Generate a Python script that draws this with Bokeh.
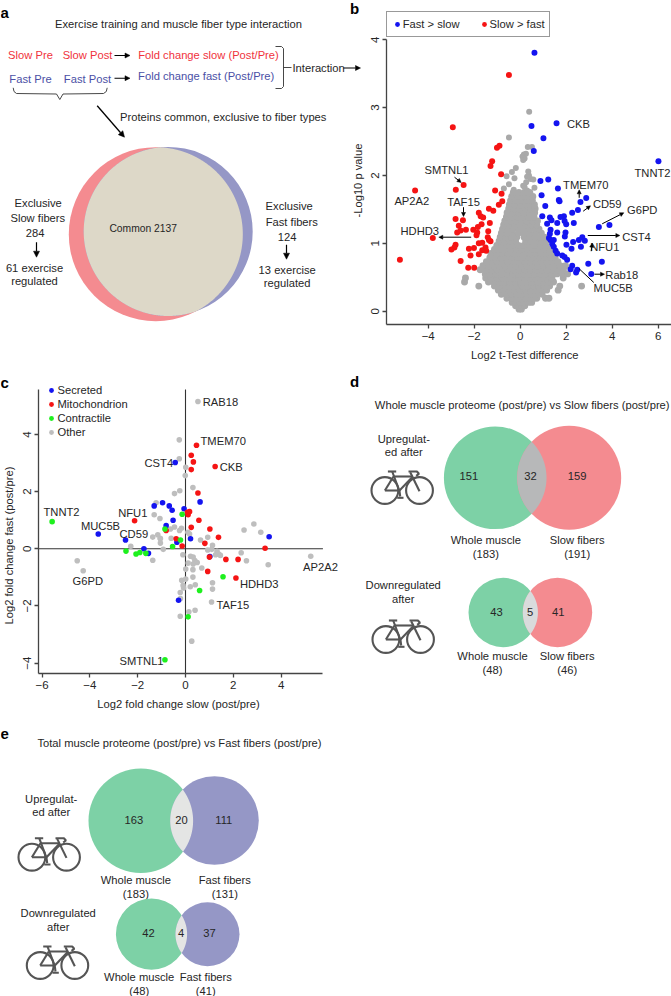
import numpy as np
from bokeh.plotting import figure
from bokeh.models import Range1d, LinearAxis, FixedTicker, Arrow, NormalHead, Legend, LegendItem
from bokeh.core.properties import value
from bokeh.embed import file_html
from bokeh.resources import INLINE

# ---------- panel b : volcano ----------
b_blue_x = [.62,1.58,.49,1.01,.59,6.01,.88,1.22,1.64,.93,1.68,1.71,2.87,2.62,1.09,2.51,2.26,.96,1.9,1.75,1.29,1.36,1.17,1.61,1.93,2.0,2.33,3.88,3.42,1.32,1.61,1.97,1.29,1.94,2.7,2.55,2.81,1.25,1.32,1.46,2.3,2.01,1.39,1.46,2.64,2.23,1.54,1.61,1.83,1.93,2.04,2.96,3.55,2.26,2.19,2.48,2.43,3.09]
b_blue_y = [3.81,2.77,2.73,2.55,2.36,2.21,1.92,1.94,1.81,1.71,1.64,1.62,1.67,1.61,1.55,1.49,1.45,1.40,1.4,1.39,1.38,1.34,1.29,1.30,1.33,1.28,1.30,1.27,1.24,1.20,1.16,1.16,1.14,1.10,1.09,1.05,1.04,1.08,1.05,1.05,1.02,.98,.99,.95,.95,.92,.89,.85,.82,.80,.76,.70,.73,.67,.62,.61,.57,.55]
b_red_x = [-.49,-2.93,-.9,-1.01,-1.22,-1.29,-.83,-2.46,-2.8,-4.57,-1.09,-.81,-.78,-.93,-1.36,-1.17,-1.8,-1.72,-1.61,-2.81,-2.49,-1.32,-2.67,-1.68,-1.84,-2.36,-2.59,-2.74,-2.04,-1.87,-1.9,-1.39,-1.41,-1.36,-1.29,-3.8,-1.8,-1.65,-2.81,-2.86,-2.99,-2.23,-2.01,-1.51,-1.65,-1.48,-1.8,-2.16,-5.23,-2.59,-2.26,-2.0]
b_red_y = [3.48,2.71,2.44,2.41,2.21,2.14,2.02,1.86,1.79,1.78,1.78,1.73,1.62,1.57,1.51,1.48,1.45,1.40,1.38,1.36,1.34,1.30,1.26,1.28,1.24,1.20,1.19,1.16,1.20,1.16,1.12,1.18,1.09,1.05,1.03,1.08,1.0,1.01,.98,.94,.91,.92,.93,.94,.90,.89,.84,.82,.76,.74,.64,.64]
b_other_levels = [.03,.08,.13,.19,.25,.31,.37,.43,.49,.55,.61,.67,.73,.79,.85,.91,.97,1.03,1.09,1.15,1.21,1.27,1.33,1.39,1.45,1.51,1.57,1.63,1.69,1.75]
b_other_rows = [
 [-.05,.05],
 [-.2,-.07,.07,.2],
 [-.35,-.18,0,.18,.35,.5],
 [-.58,-.38,-.18,.02,.22,.42,.6,.72,1.1,1.25],
 [-.82,-.6,-.38,-.16,.06,.28,.5,.72,.95],
 [-.95,-.72,-.48,-.24,0,.24,.48,.72,.95,1.15,1.65],
 [-1.8,-1.12,-.88,-.64,-.4,-.16,.08,.32,.56,.8,1.04,1.28,1.72,2.67],
 [-2.42,-1.38,-1.16,-.92,-.68,-.44,-.2,.04,.28,.52,.76,1.0,1.24,1.45],
 [-2.38,-1.5,-1.26,-1.02,-.78,-.54,-.3,-.06,.18,.42,.66,.9,1.14,1.38,1.87],
 [-1.52,-1.28,-1.04,-.8,-.56,-.32,-.08,.16,.4,.64,.88,1.12,1.36,1.6,1.83,2.06],
 [-1.74,-1.48,-1.24,-1.0,-.76,-.52,-.28,-.04,.2,.44,.68,.92,1.16,1.4,1.64,1.88],
 [-1.62,-1.38,-1.14,-.9,-.66,-.42,-.18,.06,.3,.54,.78,1.02,1.26,1.5,1.74,1.97],
 [-1.47,-1.24,-1.0,-.76,-.52,-.28,-.04,.2,.44,.68,.92,1.16,1.4,1.64],
 [-1.32,-1.08,-.84,-.6,-.36,-.12,.12,.36,.6,.84,1.08,1.32,1.52],
 [-1.27,-1.02,-.78,-.54,-.3,-.06,.18,.42,.66,.9,1.14,1.37],
 [-1.12,-.88,-.64,-.4,-.16,.08,.32,.56,.8,1.04,1.27],
 [-1.02,-.8,-.56,-.32,-.08,.16,.4,.64,.88,1.11],
 [-.92,-.68,-.44,-.2,.24,.48,.72,.96,1.12],
 [-.87,-.63,-.38,-.15,.17,.42,.66,.9,1.05],
 [-.82,-.58,-.33,-.08,.17,.42,.67,.92],
 [-.77,-.53,-.3,-.06,.18,.42,.66,.82],
 [-.72,-.48,-.24,0,.24,.48,.72],
 [-.67,-.43,-.18,.06,.3,.54,.75],
 [-.6,-.36,-.12,.12,.36,.6],
 [-.57,-.33,-.08,.16,.4,.63],
 [-.5,-.26,-.02,.22,.46,.65],
 [-.47,-.23,.02,.26,.5,.62],
 [-.42,-.18,.06,.3,.53],
 [-.37,-.12,.12,.37,.55],
 [-.3,-.06,.18,.42],
]
b_top_x = [.39,-.49,.33,.51,.16,.25,.1,.19,.13,-.19,-.36,.35,.38,-.59,.3,.45,.57,-.25,-.49,.26,.13,.19,-.71,-.28,.62,.3]
b_top_y = [2.94,2.56,2.42,2.42,2.31,2.32,2.28,2.25,2.23,2.11,2.05,2.06,2.0,1.99,1.98,1.95,1.94,1.96,1.87,1.9,1.85,1.83,1.81,1.79,1.82,1.78]

# ---------- panel c : fold change ----------
c_sec_x = [-1.31,-.96,-.68,-.56,-.06,.61,-.52,-.81,-.43,-3.65,-2.51,.21,3.5,-.36,-1.74,-1.55,1.02,-.29]
c_sec_y = [1.50,1.61,1.50,1.35,1.40,1.64,1.0,.81,3.02,.52,.31,.35,.42,.23,0,-.16,-.27,-1.8]
c_mito_x = [.46,.24,.33,.24,1.24,.52,.17,.08,.11,.56,-2.13,.24,1.02,1.38,-.81,-.39,.81,-.14,3.33,1.0,1.69,2.2,.93,2.11]
c_mito_y = [3.62,3.27,3.04,2.77,2.88,1.95,1.30,1.28,1.19,1.0,.98,.75,.69,.40,.64,.35,.19,.10,.02,-.29,-.37,-.37,-.79,-1.02]
c_con_x = [-5.58,-.14,-.86,-.21,-.54,-2.49,-2.07,-1.91,-1.66,1.57,.59,.11,-.86]
c_con_y = [.95,1.21,.69,.31,.08,-.08,-.18,-.13,-.16,-.98,-1.46,-2.38,-3.88]
c_oth_x = [.52,-.26,-.26,.01,-.01,.31,-.24,-.46,-1.23,-1.31,-1.07,-.46,-.63,-.25,-.17,.1,.17,-1.16,-1.37,-1.06,-.6,.93,.63,2.45,2.86,3.15,-4.53,-4.28,5.24,-2.29,-.93,-1.37,-1.05,-1.05,1.13,.93,1.1,1.32,1.39,1.26,1.46,2.33,2.55,3.46,-.11,.21,.32,.39,.49,.32,.11,.68,.01,.31,.31,.01,-.16,-.1,-.08,.2,.41,1.13,1.13,-.22,-.21,1.09,.4,.14,-.22,.26]
c_oth_y = [5.15,3.81,3.15,2.85,2.56,2.14,2.03,1.93,1.61,1.19,1.06,.76,.69,.64,.72,.58,.52,.49,.41,.37,.37,.40,.31,.66,.87,.58,-.42,-.77,-.26,.09,-.02,-.40,.35,.2,.12,-.04,-.02,-.09,-.18,-.21,-.23,-.14,-.42,-.56,-.21,-.26,-.29,-.41,-.48,-.53,-.5,-.67,-.71,-.73,-.99,-1.06,-1.1,-1.28,-1.37,-1.33,-1.26,-1.19,-1.41,-1.53,-1.74,-1.86,-2.15,-2.2,-2.36,-3.23]
b_ticks_x = [-4,-2,0,2,4,6]
b_ticks_y = [0,1,2,3,4]
c_ticks_x = [-6,-4,-2,0,2,4]
c_ticks_y = [-4,-2,0,2,4]

RED, BLUE, GRN = "#F48B90", "#9597C6", "#7DD1A6"
INK = "#262626"
FONT = "Liberation Sans"
W, H = 671, 996

p = figure(width=W, height=H, x_range=Range1d(0, W), y_range=Range1d(H, 0),
           x_axis_type=None, y_axis_type=None, toolbar_location=None, output_backend="svg",
           min_border=0, outline_line_color=None, background_fill_color="white", border_fill_color="white")
p.grid.visible = False

def xr(x0, u): return Range1d((0-x0)/u, (W-x0)/u)
def yr(y0, u): return Range1d((y0-H)/u, (y0-0)/u)
p.extra_x_ranges = {"bx": xr(519.7, 23.0), "cx": xr(185.0, 23.9)}
p.extra_y_ranges = {"by": yr(310.7, 67.85), "cy": yr(548.3, 28.59)}

def T(s, x, y, size=11.2, color=INK, align="center", style="normal", angle=0):
    p.text([x], [y], text=[s], text_font=value(FONT), text_font_size=f"{size}px", text_color=color,
           text_align=align, text_baseline="middle", text_font_style=style, angle=angle)

def AR(x0, y0, x1, y1, size=5, lw=1.1):
    p.add_layout(Arrow(end=NormalHead(size=size, fill_color="black", line_color="black", line_width=.5),
                       x_start=x0, y_start=y0, x_end=x1, y_end=y1, line_color="black", line_width=lw))

def lens(c1, r1, c2, r2):
    t = np.linspace(0, 2*np.pi, 1440)
    a = np.c_[c1[0]+r1*np.cos(t), c1[1]+r1*np.sin(t)]
    b = np.c_[c2[0]+r2*np.cos(t), c2[1]+r2*np.sin(t)]
    a = a[np.hypot(a[:,0]-c2[0], a[:,1]-c2[1]) <= r2]
    b = b[np.hypot(b[:,0]-c1[0], b[:,1]-c1[1]) <= r1]
    q = np.r_[a, b]
    m = q.mean(0)
    q = q[np.argsort(np.arctan2(q[:,1]-m[1], q[:,0]-m[0]))]
    return q[:,0], q[:,1]

def venn(c1, r1, col1, c2, r2, col2, ov):
    p.circle([c1[0]], [c1[1]], radius=r1, fill_color=col1, line_color=None)
    p.circle([c2[0]], [c2[1]], radius=r2, fill_color=col2, line_color=None)
    lx, ly = lens(c1, r1, c2, r2)
    p.patch(lx, ly, fill_color=ov, line_color=None)

BIKE = [
 [(-14.3,-19),(-6,-19)], [(-10,-19),(-2.7,.7),(-2,6)], [(-8.7,-14),(10.7,-14)],
 [(-17.3,0),(-8.7,-14)], [(-17.3,0),(-2.7,0)], [(10.7,-14),(-2.7,0)],
 [(8,-18.3),(17.3,.7)], [(6.3,-19),(14.7,-19),(16.7,-16.7),(14,-14.7)], [(-5,7.3),(1.3,7.3)],
]
def bike(cx, cy):
    for sx in (-17.3, 17.3):
        p.circle([cx+sx], [cy], radius=13.4, fill_color=None, line_color="#555555", line_width=2.1)
    p.multi_line([[cx+a for a, _ in l] for l in BIKE], [[cy+b for _, b in l] for l in BIKE],
                 line_color="#555555", line_width=2.1)

for s, x, y in [("a", 0, 12), ("b", 349.5, 8), ("c", 0, 382), ("d", 349.5, 381), ("e", 0, 733)]:
    T(s, x, y, size=15, color="black", align="left", style="bold")

# ---------- panel a ----------
SR, SB = "#F0323C", "#4A4FA5"
T("Exercise training and muscle fiber type interaction", 178, 23.3)
T("Slow Pre", 30, 54.3, color=SR); T("Slow Post", 87, 54.3, color=SR)
T("Fold change slow (Post/Pre)", 208, 54.5, color=SR)
T("Fast Pre", 30, 78.3, color=SB); T("Fast Post", 87, 78.3, color=SB)
T("Fold change fast (Post/Pre)", 205.7, 75, color=SB)
AR(114, 55, 129.5, 55); AR(114, 77.7, 129.5, 77.7)
T("Interaction", 292, 67, align="left")
AR(343, 67.5, 360, 67.5)
p.line([275, 281, 283, 283, 281, 275], [46, 46, 48, 86, 88, 88], line_color="#333333", line_width=.9)
p.line([283, 291], [67, 67], line_color="#333333", line_width=.9)
p.line([12.7, 13.5, 16, 56, 59.3, 62.5, 103, 105.8, 106.7], [87.3, 91, 93, 93.5, 99, 93.5, 93, 91, 87.3], line_color="#333333", line_width=.9)
AR(96.7, 105.3, 124, 136.7, size=6, lw=1.3)
T("Proteins common, exclusive to fiber types", 222.7, 116.3)
venn((155.3, 233.7), 87, RED, (167.7, 231), 84.5, BLUE, "#DDD8C8")
T("Common 2137", 142.7, 227.7, size=10.3)
T("Exclusive", 37.7, 202.3); T("Slow fibers", 37.3, 217); T("284", 34.7, 232)
AR(36, 241.7, 36, 256.7, size=6, lw=1.2)
T("61 exercise", 34, 267); T("regulated", 34, 280.3)
T("Exclusive", 288.7, 205.3); T("Fast fibers", 291.3, 221); T("124", 286.7, 236)
AR(286, 244.3, 286, 258.7, size=6, lw=1.2)
T("13 exercise", 286.7, 269); T("regulated", 286.7, 282.3)

# ---------- panel b ----------
bkw = dict(x_range_name="bx", y_range_name="by", line_color=None)
b_other_x = [x for row in b_other_rows for x in row]
b_other_y = [lv for lv, row in zip(b_other_levels, b_other_rows) for _ in row]
p.scatter(b_other_x, b_other_y, size=6.9, fill_color="#A9A9A9", **bkw)
p.scatter(b_top_x, b_top_y, size=6, fill_color="#A9A9A9", **bkw)
rb = p.scatter(b_blue_x, b_blue_y, size=6, fill_color="#1414F0", **bkw)
rr = p.scatter(b_red_x, b_red_y, size=6, fill_color="#F51414", **bkw)

def axis(dim, xn, yn, loc, bounds, ticks, side, orient=None, standoff=4):
    ax = LinearAxis(x_range_name=xn, y_range_name=yn, fixed_location=loc, bounds=bounds,
                    ticker=FixedTicker(ticks=ticks), axis_line_color="#444444", axis_line_width=1.3,
                    major_tick_line_color="#444444", major_tick_line_width=1.3, major_tick_in=0, major_tick_out=4,
                    minor_tick_line_color=None, major_label_text_font=FONT, major_label_text_font_size="11.5px",
                    major_label_text_color=INK, major_label_standoff=standoff)
    if orient: ax.major_label_orientation = orient
    p.add_layout(ax, side)
axis("x", "bx", "by", -0.196, (-5.8, 6.58), b_ticks_x, "below")
axis("y", "bx", "by", -5.8, (-0.196, 4), b_ticks_y, "left", orient="vertical")
T("-Log10 p value", 357.3, 180, angle=np.pi/2)
T("Log2 t-Test difference", 524.3, 354)
p.add_layout(Legend(items=[LegendItem(label="Fast > slow", renderers=[rb]), LegendItem(label="Slow > fast", renderers=[rr])],
                    orientation="horizontal", location=(385.7, 958.7), border_line_color="#333333", border_line_width=1,
                    background_fill_alpha=1, label_text_font=FONT, label_text_font_size="11.2px", label_text_color=INK,
                    glyph_width=12, glyph_height=12, label_standoff=0, spacing=18, padding=4, margin=0,
                    label_height=16))
for s, x, y in [("CKB",578,123),("TNNT2",652,172.7),("SMTNL1",446,169.7),("TMEM70",585.3,184),("AP2A2",411.3,200.7),
                ("TAF15",463,201.7),("HDHD3",419.3,230.3),("CD59",606.7,203.7),("G6PD",641.7,209),("CST4",636,236),
                ("NFU1",604.3,246.7),("Rab18",621.3,274),("MUC5B",612.7,287.7)]:
    T(s, x, y)
for a in [(454,176.7,460.7,182),(578.7,197.3,578.7,189.3),(463,206.7,463,216),(470.7,236.7,438.3,236.7),
          (582.7,210.7,590,205.3),(601.7,223.3,623.3,212.3),(587.3,235,619.3,235),(590.7,250.7,591.7,242.7),(594,273.7,604,273.7)]:
    AR(*a, size=4, lw=1)
p.line([578.7, 593.3], [268.3, 282], line_color="black", line_width=1)

# ---------- panel c ----------
ckw = dict(x_range_name="cx", y_range_name="cy", size=5.6, line_color=None)
p.segment([0, -6.14], [-4.35, 0], [0, 5.75], [5.57, 0], x_range_name="cx", y_range_name="cy", line_color="#333333", line_width=1.1)
ro = p.scatter(c_oth_x, c_oth_y, fill_color="#BEBEBE", **ckw)
rs = p.scatter(c_sec_x, c_sec_y, fill_color="#1414F0", **ckw)
rm = p.scatter(c_mito_x, c_mito_y, fill_color="#F51414", **ckw)
rc = p.scatter(c_con_x, c_con_y, fill_color="#1EF01E", **ckw)
axis("x", "cx", "cy", -4.35, (-6.14, 5.75), c_ticks_x, "below")
axis("y", "cx", "cy", -6.14, (-4.35, 5.57), c_ticks_y, "left", orient="vertical")
T("Log2 fold change fast (post/pre)", 8.5, 545, angle=np.pi/2)
T("Log2 fold change slow (post/pre)", 178, 703)
p.add_layout(Legend(items=[LegendItem(label="Secreted", renderers=[rs]), LegendItem(label="Mitochondrion", renderers=[rm]),
                           LegendItem(label="Contractile", renderers=[rc]), LegendItem(label="Other", renderers=[ro])],
                    location=(44.5, 557), border_line_color=None, background_fill_alpha=0,
                    label_text_font=FONT, label_text_font_size="11.2px", label_text_color=INK,
                    glyph_width=12, glyph_height=12, label_standoff=1, spacing=0, padding=0, margin=0, label_height=14))
for s, x, y in [("RAB18",220,401.3),("TMEM70",222.7,440.7),("CST4",158.3,462.3),("CKB",230.7,466.3),("TNNT2",61,511),
                ("NFU1",132.3,512.7),("MUC5B",100,525),("CD59",133.3,533),("G6PD",87.3,580),("HDHD3",258.7,583.3),
                ("TAF15",232.3,604),("SMTNL1",141,660),("AP2A2",320,566)]:
    T(s, x, y)

# ---------- panel d ----------
T("Whole muscle proteome (post/pre) vs Slow fibers (post/pre)", 521.7, 404.7)
T("Upregulat-", 403.3, 438.3); T("ed after", 403.3, 451.7)
bike(401.7, 490)
venn((494.7, 477.3), 51.3, GRN, (568.7, 477.3), 52, RED, "#B7B8B9")
T("151", 468.3, 475.7); T("32", 530, 475.7); T("159", 576.7, 475.7)
T("Whole muscle", 485.3, 539.3); T("(183)", 485.3, 553.3); T("Slow fibers", 576.7, 539.3); T("(191)", 576.7, 553.3)
T("Downregulated", 402.7, 584.3); T("after", 402.7, 598)
bike(402.7, 639)
venn((502.7, 612), 34.7, GRN, (557, 612), 34.7, RED, "#D9DBDC")
T("43", 496, 611.3); T("5", 529.7, 611.3); T("41", 557.7, 611.3)
T("Whole muscle", 492, 655.3); T("(48)", 492, 669.3); T("Slow fibers", 566.7, 655.3); T("(46)", 566.7, 669.3)

# ---------- panel e ----------
T("Total muscle proteome (post/pre) vs Fast fibers (post/pre)", 179, 742.7)
T("Upregulat-", 50.7, 798.3); T("ed after", 50.7, 811)
bike(48.7, 856.7)
venn((140.3, 820.3), 52.3, GRN, (214, 820), 44.3, BLUE, "#E4E5E4")
T("163", 133.3, 819.3); T("20", 181, 819.3); T("111", 223.3, 819.3)
T("Whole muscle", 135.3, 879.3); T("(183)", 135.3, 893.3); T("Fast fibers", 224.3, 879.3); T("(131)", 224.3, 893.3)
T("Downregulated", 57.7, 912.7); T("after", 57.7, 926.7)
bike(57, 965)
venn((151, 933.7), 35.6, GRN, (207, 933.7), 32, BLUE, "#E4E5E4")
T("42", 148, 932.3); T("4", 180.7, 932.3); T("37", 209, 932.3)
T("Whole muscle", 138.7, 976.3); T("(48)", 138.7, 990.3); T("Fast fibers", 205.3, 976.3); T("(41)", 205.3, 990.3)

open("out.html", "w").write(file_html(p, INLINE))
